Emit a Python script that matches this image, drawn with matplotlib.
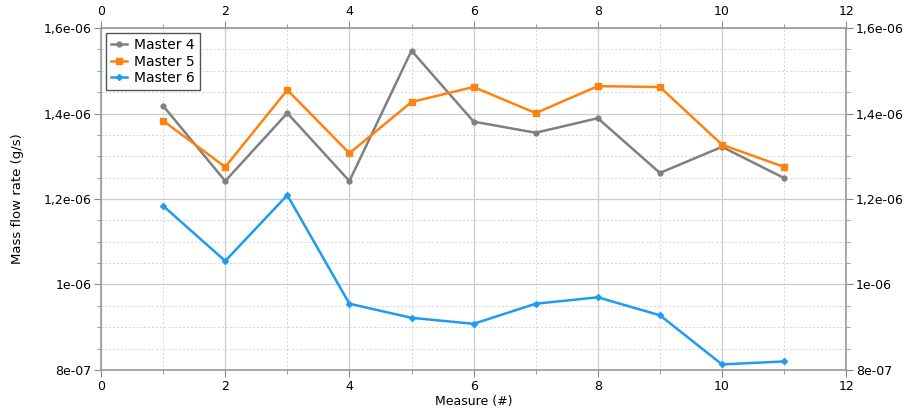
import numpy as np
import matplotlib.pyplot as plt
from matplotlib.ticker import MultipleLocator, FuncFormatter

# Données
measure = [1, 2, 3, 4, 5, 6, 7, 8, 9, 10, 11]
master4 = [1.418e-6, 1.242e-6, 1.401e-6, 1.242e-6, 1.547e-6, 1.381e-6,
           1.355e-6, 1.389e-6, 1.261e-6, 1.322e-6, 1.249e-6]
master5 = [1.383e-6, 1.275e-6, 1.455e-6, 1.307e-6, 1.427e-6, 1.462e-6,
           1.401e-6, 1.464e-6, 1.462e-6, 1.327e-6, 1.275e-6]
master6 = [1.184e-6, 1.055e-6, 1.209e-6, 0.955e-6, 0.922e-6, 0.908e-6,
           0.955e-6, 0.970e-6, 0.928e-6, 0.813e-6, 0.820e-6]

series = [("Master 4", master4, "#808080", "o", 3.5),
          ("Master 5", master5, "#ff8210", "s", 4),
          ("Master 6", master6, "#1f9bf0", "D", 3)]

fig = plt.figure(figsize=(9.06, 4.12), dpi=100)
ax = fig.add_axes([0.1115, 0.102, 0.8225, 0.830])

for name, vals, col, mk, ms in series:
    ax.plot(measure, vals, color=col, lw=1.8, marker=mk, ms=ms, label=name)

ax.set_xlim(0, 12)
ax.set_ylim(8e-7, 1.6e-6)
ax.xaxis.set_major_locator(MultipleLocator(2))
ax.xaxis.set_minor_locator(MultipleLocator(1))
ax.yaxis.set_major_locator(MultipleLocator(2e-7))
ax.yaxis.set_minor_locator(MultipleLocator(5e-8))

fmt = FuncFormatter(lambda v, p: ("%g" % float("%.3g" % v)).replace(".", ","))
ax.yaxis.set_major_formatter(fmt)

ax.grid(which="major", color="#cccccc", lw=0.9)
ax.grid(which="minor", color="#d5d5d5", lw=0.7, ls=(0, (2, 2)))

ax.tick_params(which="both", direction="out", colors="#888888", labelcolor="black",
               top=True, right=True, labeltop=True, labelright=True, labelsize=9,
               pad=2)
ax.tick_params(which="major", length=5)
ax.tick_params(which="minor", length=3)
for s in ax.spines.values():
    s.set_color("#999999")
    s.set_linewidth(1.2)

ax.set_xlabel("Measure (#)", fontsize=9, labelpad=2)
ax.set_ylabel("Mass flow rate (g/s)", fontsize=9.5, labelpad=14)

leg = ax.legend(loc="upper left", fontsize=10, fancybox=False, framealpha=1,
                edgecolor="#555555", handlelength=1.2, handletextpad=0.5,
                borderaxespad=0.35, labelspacing=0.2, borderpad=0.35)
leg.get_frame().set_linewidth(1.0)

fig.savefig("out.png", dpi=100)
